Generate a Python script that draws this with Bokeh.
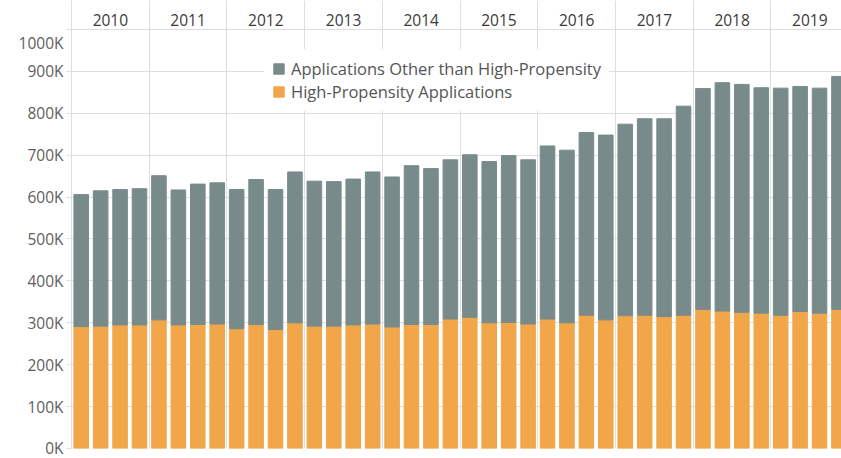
from bokeh.plotting import figure
from bokeh.models import ColumnDataSource, FixedTicker, Legend, LegendItem, Range1d
from bokeh.core.properties import value
from bokeh.embed import file_html
from bokeh.resources import INLINE

# ---- data (thousands of applications) ----
years = ["2010", "2011", "2012", "2013", "2014", "2015", "2016", "2017", "2018", "2019"]
quarters_per_year = 4

high_propensity = [291, 292, 295, 295, 307, 295, 296, 297, 286, 296,
                   284, 300, 292, 292, 295, 297, 290, 296, 296, 309,
                   313, 300, 301, 297, 309, 300, 318, 307, 317, 318,
                   315, 318, 332, 328, 325, 323, 318, 327, 323, 332]

total_applications = [606, 615, 618, 620, 651, 617, 631, 634, 618, 642,
                      618, 660, 638, 637, 643, 660, 648, 675, 668, 689,
                      701, 685, 699, 689, 722, 712, 754, 748, 774, 787,
                      787, 817, 859, 873, 869, 861, 860, 864, 860, 888]

other_applications = [t - h for t, h in zip(total_applications, high_propensity)]

y_ticks = [0, 100, 200, 300, 400, 500, 600, 700, 800, 900, 1000]
y_tick_labels = ["0K", "100K", "200K", "300K", "400K", "500K", "600K",
                 "700K", "800K", "900K", "1000K"]

series_labels = ["High-Propensity Applications",
                 "Applications Other than High-Propensity"]

# ---- styles ----
ORANGE = "#F1A64A"
GRAY = "#788B8A"
GRID = "#DEDEDE"
FONT = "Open Sans"
LABEL_SIZE = "15.5px"
LABEL_COLOR = "#5E5E5E"

quarter_idx = list(range(len(high_propensity)))
src = ColumnDataSource(dict(x=quarter_idx, hp=high_propensity, other=other_applications))

p = figure(width=841, height=458, output_backend="svg", toolbar_location=None,
           x_range=Range1d(-0.5, 39.13), y_range=Range1d(0, 1069.2),
           x_axis_location=None,
           min_border_left=71, min_border_right=0, min_border_top=0, min_border_bottom=10)
p.outline_line_color = None
p.background_fill_color = "white"
p.border_fill_color = "white"

rs = p.vbar_stack(["hp", "other"], x="x", width=0.75, color=[ORANGE, GRAY], source=src)

# year header labels, centred on each year's quarters
year_centers = [sum(quarter_idx[k * quarters_per_year:(k + 1) * quarters_per_year]) / quarters_per_year
                for k in range(len(years))]
year_bounds = [quarter_idx[(k + 1) * quarters_per_year - 1] + 0.5 for k in range(len(years))]
p.text(x=year_centers, y=[1021.5] * len(years), text=years,
       text_align="center", text_baseline="middle",
       text_font=value(FONT), text_font_size=LABEL_SIZE, text_color="#3A3A3A")

# y axis: the top label is nudged below its gridline, as in the original
overrides = {t: l for t, l in zip(y_ticks, y_tick_labels)}
overrides[y_ticks[-1]] = "\n" + y_tick_labels[-1]
ax = p.yaxis[0]
ax.ticker = FixedTicker(ticks=y_ticks)
ax.major_label_overrides = overrides
ax.major_label_text_font = FONT
ax.major_label_text_font_size = LABEL_SIZE
ax.major_label_text_color = LABEL_COLOR
ax.major_label_standoff = 3
ax.axis_line_color = GRID
ax.major_tick_line_color = GRID
ax.major_tick_in = 0
ax.major_tick_out = 5
ax.minor_tick_line_color = None

# grids
p.ygrid.ticker = FixedTicker(ticks=y_ticks[1:])
p.ygrid.grid_line_color = GRID
p.xgrid.ticker = FixedTicker(ticks=year_bounds)
p.xgrid.grid_line_color = GRID

legend = Legend(items=[LegendItem(label=series_labels[1], renderers=[rs[1]]),
                       LegendItem(label=series_labels[0], renderers=[rs[0]])],
                location=(193, 337), margin=0, padding=8, spacing=0,
                glyph_width=13, glyph_height=13, label_standoff=6,
                label_text_font=FONT, label_text_font_size="16.5px",
                label_text_color="#555555", border_line_alpha=0,
                background_fill_color="white", background_fill_alpha=1)
p.add_layout(legend)

open("out.html", "w").write(file_html(p, INLINE))
